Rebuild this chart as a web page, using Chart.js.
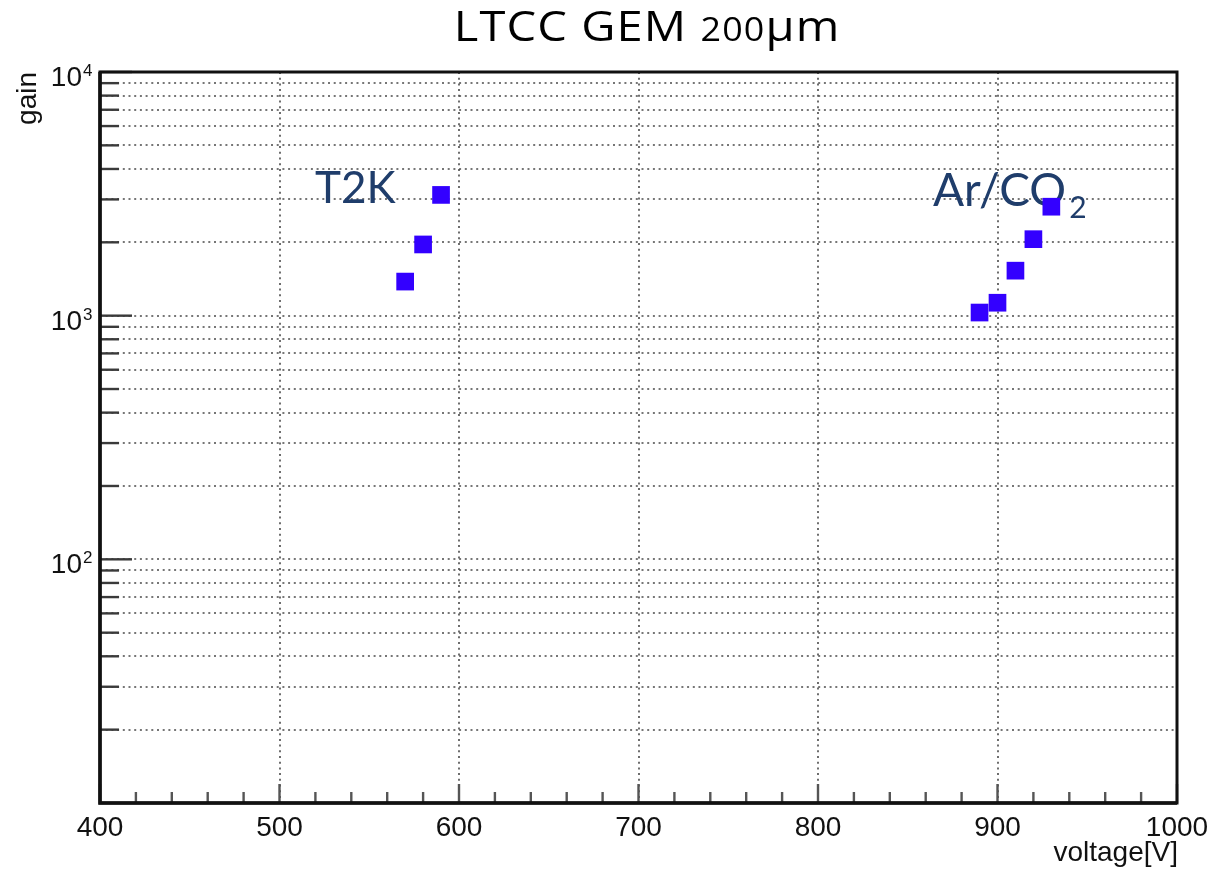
<!DOCTYPE html>
<html>
<head>
<meta charset="utf-8">
<script src="https://cdn.jsdelivr.net/npm/chart.js@4.4.1/dist/chart.umd.min.js"></script>
<style>
html, body { margin: 0; padding: 0; background: #fff; }
#wrap { width: 1212px; height: 870px; }
</style>
</head>
<body>
<div id="wrap"><canvas id="c"></canvas></div>
<script>
// values
const t2kVoltage = [570, 580, 590];
const t2kGain = [1380, 1960, 3130];
const arco2Voltage = [890, 900, 910, 920, 930];
const arco2Gain = [1030, 1130, 1530, 2060, 2800];

// axes
const xMajorTicks = [400, 500, 600, 700, 800, 900, 1000];
const xMinorTicks = [420, 440, 460, 480, 520, 540, 560, 580, 620, 640, 660, 680,
	720, 740, 760, 780, 820, 840, 860, 880, 920, 940, 960, 980];
const yMinorTicks = [20, 30, 40, 50, 60, 70, 80, 90, 200, 300, 400, 500, 600, 700, 800, 900,
	2000, 3000, 4000, 5000, 6000, 7000, 8000, 9000];
const yMajorTicks = [100, 1000, 10000];
const yMajorExp = ['2', '3', '4'];

const titleText = ['LTCC GEM ', '200', '\u03bcm'];
const xTitle = 'voltage[V]';
const yTitle = 'gain';

const pts = (xs, ys) => xs.map((x, i) => ({x: x, y: ys[i]}));

const rootLook = {
	id: 'rootLook',
	beforeDatasetsDraw(chart){
		const ctx = chart.ctx, a = chart.chartArea;
		const xs = chart.scales.x, ys = chart.scales.y;
		ctx.save();
		ctx.strokeStyle = '#4a4a4a';
		ctx.lineWidth = 1.6;
		ctx.setLineDash([2, 3.7]);
		for(let v of yMinorTicks.concat(yMajorTicks)){
			if(v >= 10000) continue;
			let y = Math.round(ys.getPixelForValue(v));
			ctx.beginPath(); ctx.moveTo(a.left, y); ctx.lineTo(a.right, y); ctx.stroke();
		}
		for(let v of xMajorTicks){
			if(v <= 400 || v >= 1000) continue;
			let x = Math.round(xs.getPixelForValue(v));
			ctx.beginPath(); ctx.moveTo(x, a.top); ctx.lineTo(x, a.bottom); ctx.stroke();
		}
		ctx.setLineDash([]);
		// gas labels
		ctx.fillStyle = '#1f3d6b';
		ctx.textBaseline = 'alphabetic';
		ctx.textAlign = 'left';
		ctx.font = '44px Lato';
		ctx.fillText('T2K', 315, 203);
		ctx.font = '46px Lato';
		ctx.fillText('Ar/CO', 933, 206);
		let w = ctx.measureText('Ar/CO').width;
		ctx.font = '30px Lato';
		ctx.fillText('2', 933 + w + 3, 218);
		ctx.restore();
	},
	afterDatasetsDraw(chart){
		const ctx = chart.ctx, a = chart.chartArea;
		const xs = chart.scales.x, ys = chart.scales.y;
		ctx.save();
		// tick marks
		ctx.strokeStyle = '#3a3a3a';
		ctx.lineWidth = 2.4;
		for(let v of yMinorTicks){
			let y = ys.getPixelForValue(v);
			ctx.beginPath(); ctx.moveTo(a.left, y); ctx.lineTo(a.left + 19, y); ctx.stroke();
		}
		for(let v of yMajorTicks){
			let y = ys.getPixelForValue(v);
			ctx.beginPath(); ctx.moveTo(a.left, y); ctx.lineTo(a.left + 32, y); ctx.stroke();
		}
		ctx.strokeStyle = '#555';
		for(let v of xMinorTicks){
			let x = xs.getPixelForValue(v);
			ctx.beginPath(); ctx.moveTo(x, a.bottom); ctx.lineTo(x, a.bottom - 11); ctx.stroke();
		}
		for(let v of xMajorTicks){
			let x = xs.getPixelForValue(v);
			ctx.beginPath(); ctx.moveTo(x, a.bottom); ctx.lineTo(x, a.bottom - 19); ctx.stroke();
		}
		// frame
		ctx.strokeStyle = '#111';
		ctx.lineWidth = 3;
		ctx.strokeRect(a.left, a.top, a.right - a.left, a.bottom - a.top);
		ctx.lineWidth = 3.5;
		ctx.beginPath();
		ctx.moveTo(a.left, a.top); ctx.lineTo(a.left, a.bottom); ctx.lineTo(a.right, a.bottom);
		ctx.stroke();
		ctx.restore();
	},
	afterDraw(chart){
		const ctx = chart.ctx, a = chart.chartArea;
		const xs = chart.scales.x, ys = chart.scales.y;
		ctx.save();
		ctx.fillStyle = '#111';
		ctx.textBaseline = 'alphabetic';
		// x tick labels
		ctx.font = '28px "Liberation Sans"';
		ctx.textAlign = 'center';
		for(let v of xMajorTicks)
			ctx.fillText(String(v), xs.getPixelForValue(v), 836);
		// y tick labels as powers of ten
		yMajorTicks.forEach((v, i) => {
			let y = ys.getPixelForValue(v);
			ctx.font = '28px "Liberation Sans"';
			ctx.textAlign = 'right';
			ctx.fillText('10', 82, y + 14);
			ctx.font = '17px "Liberation Sans"';
			ctx.textAlign = 'left';
			ctx.fillText(yMajorExp[i], 83, y + 4);
		});
		// axis titles
		ctx.font = '28px "Liberation Sans"';
		ctx.textAlign = 'right';
		ctx.fillText(xTitle, a.right + 1, 861);
		ctx.save();
		ctx.translate(36, a.top);
		ctx.rotate(-Math.PI / 2);
		ctx.textAlign = 'right';
		ctx.font = '28px "Liberation Sans"';
		ctx.fillText(yTitle, 0, 0);
		ctx.restore();
		// main title, wide face with small figures for the number
		ctx.fillStyle = '#000';
		ctx.letterSpacing = '1px';
		const big = '42px "Open Sans"', small = '32px "Open Sans"';
		const stretch = 1.12;
		ctx.font = big; let w0 = ctx.measureText(titleText[0]).width;
		ctx.font = small; let w1 = ctx.measureText(titleText[1]).width;
		ctx.font = big; let w2 = ctx.measureText(titleText[2]).width;
		let x0 = 647 / stretch - (w0 + w1 + w2) / 2;
		ctx.translate(0, 0);
		ctx.scale(stretch, 1);
		ctx.textAlign = 'left';
		ctx.font = big; ctx.fillText(titleText[0], x0, 41);
		ctx.font = small; ctx.fillText(titleText[1], x0 + w0, 41);
		ctx.font = big; ctx.fillText(titleText[2], x0 + w0 + w1, 41);
		ctx.restore();
	}
};

new Chart(document.getElementById('c'), {
	type: 'scatter',
	data: {
		datasets: [{
			label: 'T2K',
			data: pts(t2kVoltage, t2kGain),
			backgroundColor: '#3300ff',
			borderWidth: 0,
			pointStyle: 'rect',
			pointRadius: 12.5
		}, {
			label: 'Ar/CO2',
			data: pts(arco2Voltage, arco2Gain),
			backgroundColor: '#3300ff',
			borderWidth: 0,
			pointStyle: 'rect',
			pointRadius: 12.5
		}]
	},
	options: {
		responsive: true,
		maintainAspectRatio: false,
		animation: false,
		layout: {padding: {left: 100, right: 35, top: 72, bottom: 67}},
		plugins: {legend: {display: false}, tooltip: {enabled: false}, title: {display: false}},
		scales: {
			x: {type: 'linear', min: 400, max: 1000, display: false},
			y: {type: 'logarithmic', min: 10, max: 10000, display: false}
		}
	},
	plugins: [rootLook]
});
</script>
</body>
</html>
